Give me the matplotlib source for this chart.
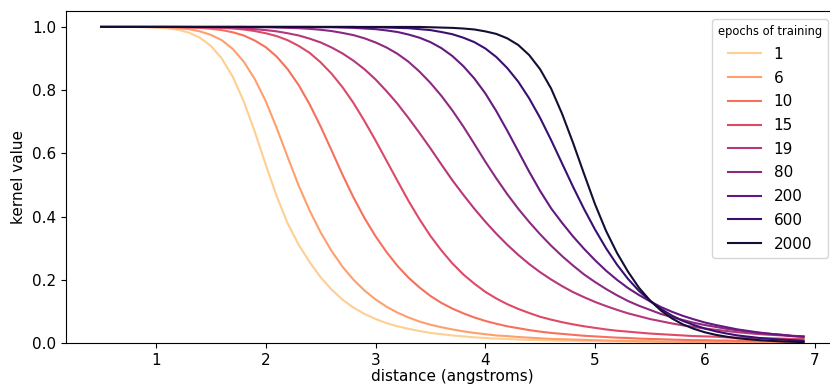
import numpy as np
import matplotlib.pyplot as plt

# distances sampled every 0.1 angstrom
distance = np.linspace(0.5, 6.9, 65)

epochs = ['1', '6', '10', '15', '19', '80', '200', '600', '2000']

k_1 = [1.000, 1.000, 1.000, 1.000, 0.999,
       0.998, 0.996, 0.991, 0.982, 0.966, 0.940, 0.900, 0.842, 0.764, 0.669,
       0.564, 0.464, 0.378, 0.311, 0.256, 0.208, 0.169, 0.137, 0.112, 0.092,
       0.076, 0.063, 0.053, 0.045, 0.038, 0.032, 0.028, 0.024, 0.021, 0.018,
       0.016, 0.014, 0.013, 0.011, 0.010, 0.009, 0.008, 0.007, 0.007, 0.006,
       0.006, 0.005, 0.005, 0.004, 0.004, 0.004, 0.003, 0.003, 0.003, 0.003,
       0.003, 0.002, 0.002, 0.002, 0.002, 0.002, 0.002, 0.002, 0.002, 0.002]
k_6 = [1.000, 1.000, 1.000, 1.000, 1.000,
       0.999, 0.998, 0.996, 0.993, 0.986, 0.975, 0.958, 0.930, 0.890, 0.835,
       0.765, 0.680, 0.588, 0.498, 0.419, 0.350, 0.291, 0.241, 0.200, 0.166,
       0.138, 0.115, 0.096, 0.081, 0.068, 0.058, 0.050, 0.043, 0.037, 0.032,
       0.028, 0.024, 0.022, 0.019, 0.017, 0.015, 0.013, 0.012, 0.011, 0.010,
       0.009, 0.008, 0.007, 0.007, 0.006, 0.006, 0.005, 0.005, 0.004, 0.004,
       0.004, 0.004, 0.003, 0.003, 0.003, 0.003, 0.003, 0.002, 0.002, 0.002]
k_10 = [1.000, 1.000, 1.000, 1.000, 1.000,
        1.000, 1.000, 0.999, 0.998, 0.997, 0.994, 0.990, 0.983, 0.973, 0.957,
        0.936, 0.906, 0.866, 0.816, 0.755, 0.685, 0.609, 0.532, 0.460, 0.395,
        0.338, 0.288, 0.244, 0.207, 0.176, 0.149, 0.127, 0.109, 0.094, 0.081,
        0.070, 0.061, 0.053, 0.047, 0.041, 0.036, 0.032, 0.029, 0.026, 0.023,
        0.021, 0.019, 0.017, 0.016, 0.014, 0.013, 0.012, 0.011, 0.010, 0.009,
        0.009, 0.008, 0.008, 0.007, 0.007, 0.006, 0.006, 0.006, 0.005, 0.005]
k_15 = [1.000, 1.000, 1.000, 1.000, 1.000,
        1.000, 1.000, 1.000, 0.999, 0.999, 0.998, 0.997, 0.995, 0.992, 0.987,
        0.980, 0.971, 0.958, 0.940, 0.918, 0.888, 0.852, 0.809, 0.759, 0.702,
        0.641, 0.577, 0.513, 0.450, 0.392, 0.339, 0.293, 0.252, 0.217, 0.188,
        0.162, 0.141, 0.123, 0.108, 0.095, 0.083, 0.074, 0.066, 0.059, 0.053,
        0.048, 0.043, 0.039, 0.036, 0.033, 0.030, 0.028, 0.026, 0.024, 0.022,
        0.021, 0.020, 0.018, 0.017, 0.016, 0.015, 0.015, 0.014, 0.013, 0.013]
k_19 = [1.000, 1.000, 1.000, 1.000, 1.000,
        1.000, 1.000, 1.000, 1.000, 0.999, 0.999, 0.998, 0.997, 0.995, 0.993,
        0.990, 0.986, 0.980, 0.973, 0.963, 0.951, 0.935, 0.916, 0.893, 0.866,
        0.834, 0.797, 0.757, 0.712, 0.665, 0.616, 0.565, 0.515, 0.469, 0.425,
        0.384, 0.346, 0.311, 0.279, 0.250, 0.224, 0.201, 0.180, 0.161, 0.145,
        0.130, 0.117, 0.105, 0.094, 0.085, 0.076, 0.069, 0.062, 0.056, 0.051,
        0.046, 0.042, 0.038, 0.034, 0.031, 0.028, 0.026, 0.024, 0.022, 0.020]
k_80 = [1.000, 1.000, 1.000, 1.000, 1.000,
        1.000, 1.000, 1.000, 1.000, 1.000, 1.000, 1.000, 1.000, 1.000, 0.999,
        0.999, 0.998, 0.997, 0.996, 0.994, 0.991, 0.987, 0.981, 0.974, 0.964,
        0.951, 0.935, 0.915, 0.890, 0.859, 0.823, 0.782, 0.736, 0.685, 0.630,
        0.574, 0.521, 0.471, 0.425, 0.383, 0.344, 0.308, 0.275, 0.245, 0.217,
        0.193, 0.171, 0.151, 0.133, 0.118, 0.105, 0.092, 0.082, 0.073, 0.064,
        0.057, 0.051, 0.045, 0.040, 0.036, 0.032, 0.029, 0.026, 0.023, 0.021]
k_200 = [1.000, 1.000, 1.000, 1.000, 1.000,
         1.000, 1.000, 1.000, 1.000, 1.000, 1.000, 1.000, 1.000, 1.000, 1.000,
         1.000, 1.000, 1.000, 1.000, 1.000, 0.999, 0.999, 0.998, 0.997, 0.995,
         0.993, 0.989, 0.984, 0.976, 0.966, 0.952, 0.933, 0.908, 0.876, 0.837,
         0.790, 0.734, 0.672, 0.607, 0.542, 0.481, 0.426, 0.380, 0.337, 0.298,
         0.262, 0.229, 0.200, 0.174, 0.152, 0.132, 0.114, 0.099, 0.086, 0.075,
         0.065, 0.057, 0.050, 0.043, 0.038, 0.033, 0.029, 0.026, 0.022, 0.020]
k_600 = [1.000, 1.000, 1.000, 1.000, 1.000,
         1.000, 1.000, 1.000, 1.000, 1.000, 1.000, 1.000, 1.000, 1.000, 1.000,
         1.000, 1.000, 1.000, 1.000, 1.000, 1.000, 1.000, 1.000, 1.000, 0.999,
         0.999, 0.998, 0.997, 0.996, 0.993, 0.990, 0.984, 0.977, 0.966, 0.952,
         0.932, 0.905, 0.870, 0.827, 0.774, 0.712, 0.642, 0.568, 0.494, 0.424,
         0.359, 0.300, 0.248, 0.203, 0.165, 0.134, 0.108, 0.087, 0.070, 0.057,
         0.046, 0.037, 0.030, 0.024, 0.020, 0.016, 0.013, 0.011, 0.009, 0.007]
k_2000 = [1.000, 1.000, 1.000, 1.000, 1.000,
          1.000, 1.000, 1.000, 1.000, 1.000, 1.000, 1.000, 1.000, 1.000, 1.000,
          1.000, 1.000, 1.000, 1.000, 1.000, 1.000, 1.000, 1.000, 1.000, 1.000,
          1.000, 1.000, 1.000, 1.000, 1.000, 0.999, 0.998, 0.997, 0.995, 0.992,
          0.986, 0.978, 0.964, 0.943, 0.911, 0.866, 0.805, 0.725, 0.633, 0.535,
          0.439, 0.355, 0.285, 0.226, 0.175, 0.135, 0.103, 0.078, 0.059, 0.045,
          0.034, 0.026, 0.020, 0.015, 0.012, 0.009, 0.007, 0.005, 0.004, 0.003]

kernels = [k_1, k_6, k_10, k_15, k_19, k_80, k_200, k_600, k_2000]
colors = plt.cm.magma(np.linspace(0.9, 0.1, len(epochs)))

fig = plt.figure(figsize=(8.3, 3.85), dpi=100)
ax = fig.add_axes([0.0795, 0.109, 0.931, 0.862])

for label, k, c in zip(epochs, kernels, colors):
    ax.plot(distance, k, color=c, lw=1.5, label=label)

ax.set_ylim(bottom=0)
ax.set_xticks([1, 2, 3, 4, 5, 6, 7])
ax.set_yticks([0.0, 0.2, 0.4, 0.6, 0.8, 1.0])
ax.tick_params(labelsize=11)
ax.set_xlabel('distance (angstroms)', fontsize=11, labelpad=1)
ax.set_ylabel('kernel value', fontsize=11)

ax.legend(title='epochs of training', fontsize=11, title_fontsize=8.3,
          labelspacing=0.57, handlelength=2.2,
          loc='upper right', bbox_to_anchor=(0.9976, 0.9506),
          bbox_transform=fig.transFigure, borderaxespad=0)

fig.savefig('out.png', dpi=100)
